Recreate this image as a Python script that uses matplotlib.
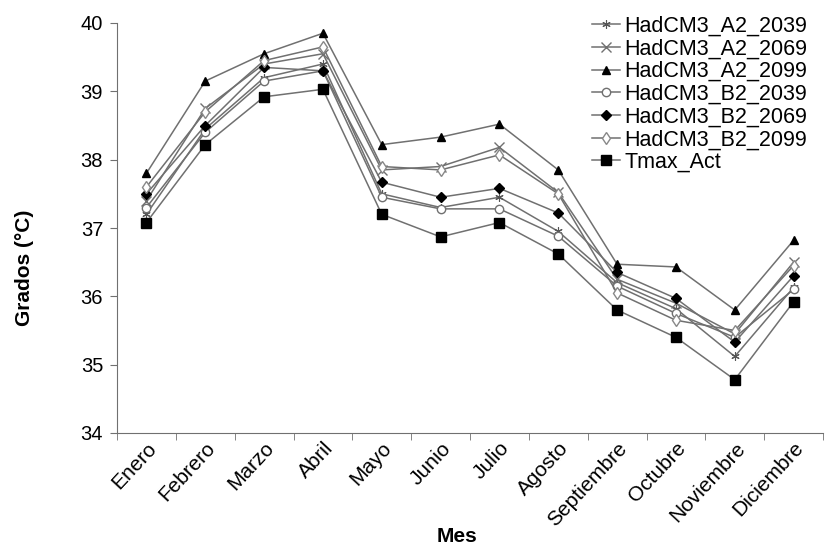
import matplotlib
matplotlib.use("Agg")
import matplotlib.pyplot as plt
import numpy as np

plt.rcParams['font.family'] = ['Liberation Sans', 'DejaVu Sans']

meses = ["Enero", "Febrero", "Marzo", "Abril", "Mayo", "Junio", "Julio",
         "Agosto", "Septiembre", "Octubre", "Noviembre", "Diciembre"]

a2_2039 = [37.20, 38.45, 39.20, 39.40, 37.50, 37.30, 37.45, 36.95, 36.20, 35.82, 35.12, 36.13]
a2_2069 = [37.40, 38.75, 39.40, 39.55, 37.85, 37.90, 38.18, 37.52, 36.25, 35.90, 35.45, 36.50]
a2_2099 = [37.80, 39.15, 39.55, 39.85, 38.22, 38.33, 38.52, 37.85, 36.47, 36.43, 35.80, 36.82]
b2_2039 = [37.30, 38.40, 39.15, 39.30, 37.45, 37.28, 37.28, 36.88, 36.15, 35.75, 35.40, 36.10]
b2_2069 = [37.50, 38.50, 39.35, 39.30, 37.67, 37.45, 37.58, 37.22, 36.35, 35.97, 35.33, 36.30]
b2_2099 = [37.60, 38.70, 39.45, 39.65, 37.90, 37.85, 38.07, 37.50, 36.05, 35.65, 35.50, 36.45]
tmax_act = [37.08, 38.22, 38.92, 39.03, 37.20, 36.87, 37.08, 36.62, 35.80, 35.40, 34.78, 35.92]

series = [
    ("HadCM3_A2_2039", a2_2039, dict(marker=(6, 2, 0), ms=6, mfc='#777777', mec='#555555', mew=0.8)),
    ("HadCM3_A2_2069", a2_2069, dict(marker='x', ms=7, mfc='none', mec='#707070', mew=1.0)),
    ("HadCM3_A2_2099", a2_2099, dict(marker='^', ms=6, mfc='black', mec='black')),
    ("HadCM3_B2_2039", b2_2039, dict(marker='o', ms=6, mfc='white', mec='#707070', mew=1.0)),
    ("HadCM3_B2_2069", b2_2069, dict(marker='D', ms=5, mfc='black', mec='black')),
    ("HadCM3_B2_2099", b2_2099, dict(marker='d', ms=6, mfc='white', mec='#888888', mew=1.0)),
    ("Tmax_Act", tmax_act, dict(marker='s', ms=7, mfc='black', mec='black')),
]

fig = plt.figure(figsize=(8.25, 5.48), dpi=100)
ax = fig.add_axes([117/825, 1-433/548, (823-117)/825, (433-23)/548])

x = np.arange(len(meses))
for name, vals, st in series:
    ax.plot(x, vals, color='#707070', lw=1.1, label=name, **st)

ax.set_xlim(-0.5, len(meses)-0.5)
ax.set_ylim(34, 40)
ax.set_yticks(np.arange(34, 41, 1))
ax.set_xticks(x)
ax.set_xticklabels(meses, rotation=47, ha='right', rotation_mode='anchor', fontsize=15)
ax.set_xticks(np.arange(-0.5, len(meses), 1), minor=True)
ax.tick_params(axis='x', which='major', length=0, pad=4)
ax.tick_params(axis='x', which='minor', length=5, color='#707070')
ax.tick_params(axis='y', labelsize=14.5, length=5, color='#707070', pad=5)
for s in ['top', 'right']:
    ax.spines[s].set_visible(False)
for s in ['left', 'bottom']:
    ax.spines[s].set_color('#707070')

ax.set_ylabel("Grados (°C)", fontsize=15, fontweight='bold')
ax.yaxis.set_label_coords((25 - 117) / (823 - 117), (433 - 268) / (433 - 23))
ax.set_xlabel("Mes", fontsize=15, fontweight='bold')
ax.xaxis.set_label_coords((457 - 117) / (823 - 117), -(537 - 433) / (433 - 23))
ax.xaxis.label.set_va('center')
ax.yaxis.label.set_va('center')

leg = fig.legend(loc='upper right', bbox_to_anchor=(816/825, 1-7/548), frameon=False,
                 fontsize=15.5, handlelength=1.3, handletextpad=0.2, labelspacing=0.08,
                 borderaxespad=0)

fig.savefig("out.png", dpi=100)
